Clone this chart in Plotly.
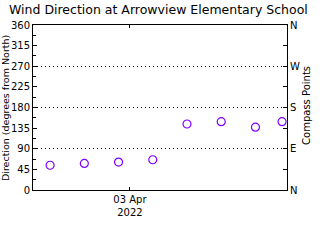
import plotly.graph_objects as go

times = ["2022-04-02 17:00", "2022-04-02 20:00", "2022-04-02 23:00", "2022-04-03 02:00",
         "2022-04-03 05:00", "2022-04-03 08:00", "2022-04-03 11:00", "2022-04-03 13:20"]
direction = [54, 58, 61, 66, 144, 149, 137, 149]
deg_ticks = [0, 45, 90, 135, 180, 225, 270, 315, 360]
compass_vals = [0, 90, 180, 270, 360]
compass_text = ["N", "E", "S", "W", "N"]

FONT = "DejaVu Sans"
purple = "#7f00ff"

fig = go.Figure()
fig.add_trace(go.Scatter(x=times, y=direction, mode="markers",
                         marker=dict(symbol="circle-open", size=8, color=purple,
                                     line=dict(width=1.2, color=purple)),
                         showlegend=False, yaxis="y"))
fig.add_trace(go.Scatter(x=times, y=direction, mode="markers",
                         marker=dict(opacity=0), showlegend=False, yaxis="y2",
                         hoverinfo="skip"))

fig.update_layout(
    width=320, height=240,
    margin=dict(l=33, r=33, t=25, b=50),
    paper_bgcolor="white", plot_bgcolor="white",
    font=dict(family=FONT, size=10, color="black"),
    xaxis=dict(type="date", range=["2022-04-02 15:30", "2022-04-03 13:46"],
               tickvals=["2022-04-03"], ticktext=["03 Apr<br>2022"],
               ticks="inside", ticklen=3, tickcolor="black",
               showline=True, linecolor="black", linewidth=1, mirror="ticks",
               showgrid=False, zeroline=False, tickfont=dict(size=10)),
    yaxis=dict(range=[0, 360], tickvals=deg_ticks, ticks="inside", ticklen=4,
               tickcolor="black", showline=True, linecolor="black", linewidth=1,
               showgrid=False, zeroline=False, tickfont=dict(size=10),
               minor=dict(tickvals=[22.5 + 45 * i for i in range(8)], ticks="inside",
                          ticklen=3, tickcolor="black", showgrid=False)),
    yaxis2=dict(range=[0, 360], overlaying="y", side="right",
                tickvals=compass_vals, ticktext=compass_text,
                ticks="inside", ticklen=4, tickcolor="black",
                showline=True, linecolor="black", linewidth=1,
                showgrid=True, gridcolor="black", griddash="1px,3px", gridwidth=1,
                zeroline=False, tickfont=dict(size=10),
                minor=dict(tickvals=[45, 135, 225, 315], ticks="inside",
                           ticklen=4, tickcolor="black", showgrid=False)),
    annotations=[
        dict(text="Wind Direction at Arrowview Elementary School", xref="paper", yref="paper",
             x=0.494, y=1.091, showarrow=False, xanchor="center", yanchor="middle",
             font=dict(size=12.5)),
        dict(text="Direction (degrees from North)", xref="paper", yref="paper",
             x=-0.106, y=0.497, showarrow=False, textangle=-90,
             xanchor="center", yanchor="middle", font=dict(size=9.5)),
        dict(text="Compass Points", xref="paper", yref="paper",
             x=1.079, y=0.51, showarrow=False, textangle=-90,
             xanchor="center", yanchor="middle", font=dict(size=10)),
    ],
)

fig.write_html("out.html")
